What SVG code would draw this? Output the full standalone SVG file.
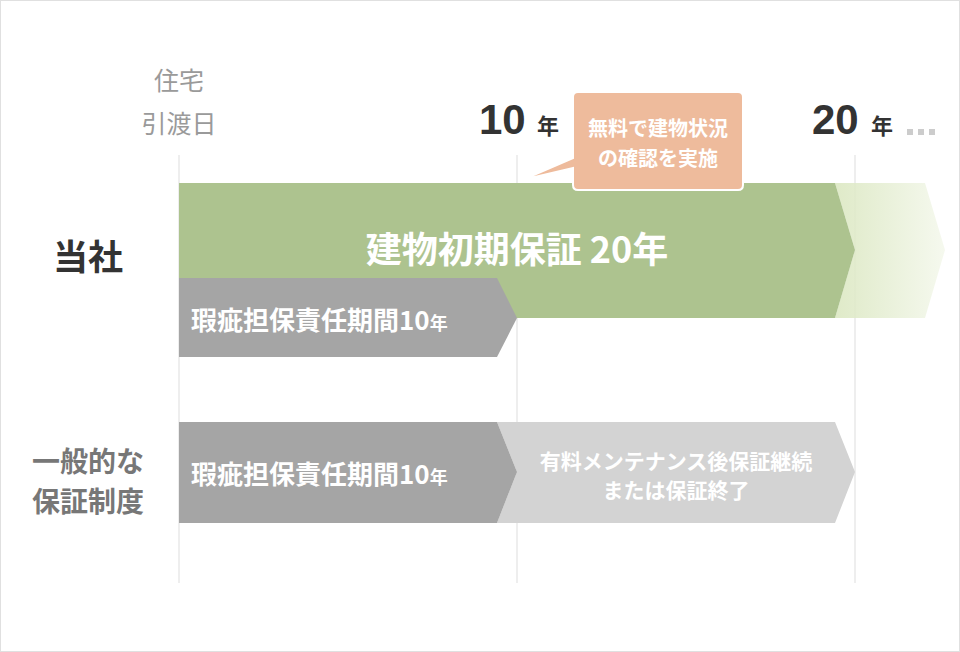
<svg xmlns="http://www.w3.org/2000/svg" width="960" height="652" viewBox="0 0 960 652">
<defs>
<style>
text{font-family:"Noto Sans CJK JP","Noto Sans",sans-serif}
.n{font-family:"Liberation Sans","Noto Sans CJK JP",sans-serif}
.w{fill:#fff;font-weight:bold}
.g{fill:#9a9a9a}
.d{fill:#333;font-weight:bold}
.vl{stroke:#e8e8e8;stroke-width:1.5}
</style>
<linearGradient id="fade" x1="0" x2="1" y1="0" y2="0">
<stop offset="0" stop-color="#dfeac8"/><stop offset="1" stop-color="#dfeac8" stop-opacity="0.3"/>
</linearGradient>
</defs>
<rect x="0.5" y="0.5" width="959" height="651" fill="#fff" stroke="#e0e0e0"/>
<g id="grid">
<line class="vl" x1="179" y1="155" x2="179" y2="583"/>
<line class="vl" x1="517" y1="155" x2="517" y2="583"/>
<line class="vl" x1="855" y1="155" x2="855" y2="583"/>
</g>
<g id="axis">
<text x="179" y="90" font-size="25" text-anchor="middle" class="g">住宅</text>
<text x="179" y="133" font-size="25" text-anchor="middle" class="g">引渡日</text>
<text x="479" y="134" font-size="42" class="d n">10</text>
<text x="537" y="134" font-size="22" class="d">年</text>
<text x="812" y="134" font-size="42" class="d n">20</text>
<text x="871" y="134" font-size="22" class="d">年</text>
<rect x="907" y="129" width="6" height="6" fill="#ccc"/>
<rect x="918" y="129" width="6" height="6" fill="#ccc"/>
<rect x="929" y="129" width="6" height="6" fill="#ccc"/>
</g>
<g id="labels">
<text x="88" y="270" font-size="35" text-anchor="middle" class="d">当社</text>
<text x="88" y="472" font-size="28" text-anchor="middle" fill="#777" font-weight="bold">一般的な</text>
<text x="88" y="512" font-size="28" text-anchor="middle" fill="#777" font-weight="bold">保証制度</text>
</g>
<g id="fade-bar"><polygon points="835,183 925,183 945,250 925,318 835,318 855,250" fill="url(#fade)"/></g>
<g id="green-bar">
<polygon points="179,183 835,183 855,250 835,318 179,318" fill="#adc38f"/>
<text x="517" y="263" font-size="36" text-anchor="middle" class="w">建物初期保証 20年</text>
</g>
<g id="gray-bar1">
<polygon points="179,278 497,278 517,318 497,357 179,357" fill="#a5a5a5"/>
<text x="191" y="330" font-size="26" class="w">瑕疵担保責任期間10<tspan font-size="18">年</tspan></text>
</g>
<g id="light-bar">
<polygon points="497,422 835,422 855,472 835,523 497,523 517,472" fill="#d3d3d3"/>
<text x="676" y="469" font-size="21" text-anchor="middle" class="w">有料メンテナンス後保証継続</text>
<text x="676" y="498" font-size="21" text-anchor="middle" class="w">または保証終了</text>
</g>
<g id="gray-bar2">
<polygon points="179,422 497,422 517,472 497,523 179,523" fill="#a5a5a5"/>
<text x="191" y="484" font-size="26" class="w">瑕疵担保責任期間10<tspan font-size="18">年</tspan></text>
</g>
<g id="callout">
<path d="M578,92 H738 Q743,92 743,97 V185 Q743,190 738,190 H578 Q573,190 573,185 V168 L522,180 L573,158 V97 Q573,92 578,92 Z" fill="#eebb9c" stroke="#fff" stroke-width="2"/>
<text x="658" y="136" font-size="20" text-anchor="middle" class="w">無料で建物状況</text>
<text x="658" y="166" font-size="20" text-anchor="middle" class="w">の確認を実施</text>
</g>
</svg>
